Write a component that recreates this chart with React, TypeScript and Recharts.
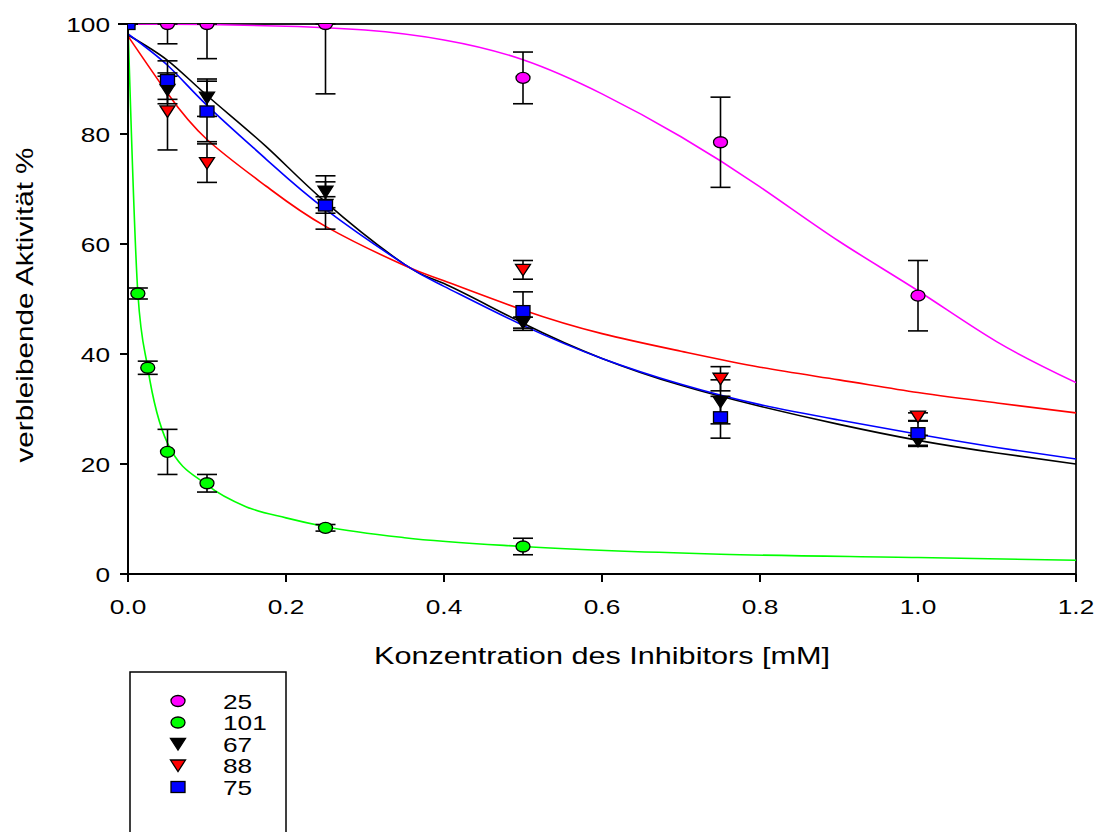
import React from 'react';
import { ComposedChart, Line, Scatter, XAxis, YAxis, ErrorBar, ReferenceLine } from 'recharts';

const FONT = '"Liberation Sans", Arial, Helvetica, sans-serif';
const STRETCH = 1.25; // the original picture is widened a bit

const xTicks = [0, 0.2, 0.4, 0.6, 0.8, 1.0, 1.2];
const yTicks = [0, 20, 40, 60, 80, 100];

const xTitle = 'Konzentration des Inhibitors [mM]';
const yTitle = 'verbleibende Aktivität %';

const seriesNames = ['25', '101', '67', '88', '75'];
const seriesColors = ['#ff00ff', '#00ff00', '#000000', '#ff0000', '#0000ff'];
const seriesShapes = ['circle', 'circle', 'triangle', 'triangle', 'square'];
const curveTypes: any[] = ['natural', 'monotone', 'natural', 'natural', 'natural'];

// measured points
const conc = [0, 0.05, 0.1, 0.25, 0.5, 0.75, 1.0];
const conc101 = [0, 0.0125, 0.025, 0.05, 0.1, 0.25, 0.5];

const act25 = [100, 100, 100, 100, 90.2, 78.5, 50.6];
const err25 = [[0, 0], [3.6, 0], [6.3, 0], [12.7, 0], [4.7, 4.7], [8.2, 8.2], [6.4, 6.4]];

const act101 = [100, 51, 37.5, 22.2, 16.5, 8.4, 5.0];
const err101 = [[0, 0], [1, 1], [1.2, 1.2], [4.1, 4.1], [1.6, 1.6], [0.6, 0.6], [1.5, 1.5]];

const act67 = [100, 88, 86.6, 69.5, 45.7, 31.3, 24.2];
const err67 = [[0, 0], [2.5, 2.5], [3.4, 3.4], [2.9, 2.9], [1, 1], [4, 4], [1, 1]];

const act88 = [100, 84.1, 74.7, 67.1, 55.3, 35.5, 28.6];
const err88 = [[0, 0], [7, 7], [3.5, 3.5], [1.5, 1.5], [1.7, 1.7], [2.2, 2.2], [0.7, 0.7]];

const act75 = [100, 89.8, 84.1, 67, 47.8, 28.5, 25.6];
const err75 = [[0, 0], [3.5, 3.5], [5.5, 5.5], [4.3, 4.3], [3.5, 3.5], [3.8, 3.8], [2.2, 2.2]];

// fitted curves
const fitX25 = [0, 0.1, 0.2, 0.3, 0.4, 0.5, 0.6, 0.7, 0.8, 0.9, 1.0, 1.1, 1.2];
const fit25 = [100, 99.9, 99.6, 98.9, 97.1, 93.5, 87.3, 79.5, 70.4, 60.5, 51.5, 42.2, 34.8];

const fitX101 = [0, 0.0125, 0.025, 0.05, 0.1, 0.15, 0.2, 0.25, 0.35, 0.5, 0.75, 1.0, 1.2];
const fit101 = [100, 51, 37.5, 23.8, 16.2, 12.2, 10.2, 8.6, 6.6, 5.0, 3.6, 3.0, 2.5];

const fitX = [0, 0.05, 0.1, 0.175, 0.25, 0.35, 0.4, 0.5, 0.6, 0.7, 0.8, 0.9, 1.0, 1.1, 1.2];
const fit67 = [98, 93.4, 87, 77.7, 67.6, 56.3, 52.8, 45.6, 39.2, 34.3, 30.5, 27.2, 24.3, 22, 20];
const fit88 = [97.8, 87.4, 79, 70.5, 63.2, 56.1, 53.3, 48, 43.7, 40.5, 37.6, 35.3, 33, 31.1, 29.3];
const fit75 = [98.2, 92.5, 85.2, 75.4, 66.3, 56.3, 52.3, 45.2, 39.2, 34.5, 30.8, 28, 25.4, 23, 20.9];

const legendRows = [701, 722.5, 744, 765.5, 787];

const curve = (xs: number[], ys: number[]) => xs.map((x, i) => ({ x, y: ys[i] }));
const points = (xs: number[], ys: number[], es: number[][]) =>
  xs.map((x, i) => ({ x, y: ys[i], err: es[i] }));

const curves = [
  curve(fitX25, fit25),
  curve(fitX101, fit101),
  curve(fitX, fit67),
  curve(fitX, fit88),
  curve(fitX, fit75),
];

const measured = [
  points(conc, act25, err25),
  points(conc101, act101, err101),
  points(conc, act67, err67),
  points(conc, act88, err88),
  points(conc, act75, err75),
];

const Marker = ({ cx, cy, fill, kind }: any) => {
  if (cx == null || cy == null) return null;
  if (kind === 'circle') {
    return <ellipse cx={cx} cy={cy} rx={7} ry={5.5} fill={fill} stroke="#000" strokeWidth={1.3} />;
  }
  if (kind === 'triangle') {
    return (
      <polygon
        points={`${cx - 7.5},${cy - 5.5} ${cx + 7.5},${cy - 5.5} ${cx},${cy + 6}`}
        fill={fill}
        stroke="#000"
        strokeWidth={1.3}
      />
    );
  }
  return <rect x={cx - 7} y={cy - 5.5} width={14} height={11} fill={fill} stroke="#000" strokeWidth={1.3} />;
};

const XTick = ({ x, y, payload }: any) => (
  <g transform={`translate(${x},${y})`}>
    <text transform={`scale(${STRETCH},1)`} textAnchor="middle" y={32} fontSize={21} fontFamily={FONT} fill="#000">
      {Number(payload.value).toFixed(1)}
    </text>
  </g>
);

const YTick = ({ x, y, payload }: any) => (
  <g transform={`translate(${x - 10},${y})`}>
    <text transform={`scale(${STRETCH},1)`} textAnchor="end" y={7.5} fontSize={21} fontFamily={FONT} fill="#000">
      {payload.value}
    </text>
  </g>
);

export default function App() {
  return (
    <div style={{ position: 'fixed', left: 0, top: 0, width: 1098, height: 832, overflow: 'hidden', background: '#fff' }}>
      <ComposedChart width={1098} height={832} margin={{ top: 24, right: 22, left: 0, bottom: 0 }}>
        <XAxis
          type="number"
          dataKey="x"
          domain={[0, 1.2]}
          ticks={xTicks}
          allowDataOverflow
          height={258}
          tickSize={8}
          tickMargin={0}
          tick={<XTick />}
          axisLine={{ stroke: '#000', strokeWidth: 2 }}
          tickLine={{ stroke: '#000', strokeWidth: 2 }}
        />
        <YAxis
          type="number"
          dataKey="y"
          domain={[0, 100]}
          ticks={yTicks}
          allowDataOverflow
          width={128}
          tickSize={8}
          tickMargin={0}
          tick={<YTick />}
          axisLine={{ stroke: '#000', strokeWidth: 2 }}
          tickLine={{ stroke: '#000', strokeWidth: 2 }}
        />
        <ReferenceLine y={100} stroke="#222" strokeWidth={2} />
        <ReferenceLine x={1.2} stroke="#222" strokeWidth={2} />
        {curves.map((d, i) => (
          <Line
            key={'fit' + i}
            data={d}
            dataKey="y"
            type={curveTypes[i]}
            stroke={seriesColors[i]}
            strokeWidth={1.6}
            dot={false}
            activeDot={false}
            isAnimationActive={false}
          />
        ))}
        {measured.map((d, i) => (
          <Scatter
            key={'pts' + i}
            name={seriesNames[i]}
            data={d}
            fill={seriesColors[i]}
            isAnimationActive={false}
            shape={(p: any) => <Marker {...p} fill={seriesColors[i]} kind={seriesShapes[i]} />}
          >
            <ErrorBar dataKey="err" direction="y" width={10} stroke="#000" strokeWidth={1.6} isAnimationActive={false} />
          </Scatter>
        ))}
      </ComposedChart>
      <svg width={1098} height={832} style={{ position: 'absolute', left: 0, top: 0, pointerEvents: 'none' }}>
        <g transform="translate(602,664)">
          <text transform={`scale(${STRETCH},1)`} textAnchor="middle" fontSize={24.5} fontFamily={FONT} fill="#000">
            {xTitle}
          </text>
        </g>
        <g transform="translate(33,305) rotate(-90)">
          <text
            textAnchor="middle"
            fontSize={24}
            fontFamily={FONT}
            fill="#000"
            textLength={315}
            lengthAdjust="spacingAndGlyphs"
          >
            {yTitle}
          </text>
        </g>
        <rect x={130} y={672} width={156} height={200} fill="none" stroke="#000" strokeWidth={1.5} />
        {seriesNames.map((name, i) => (
          <g key={name}>
            <Marker cx={178} cy={legendRows[i]} fill={seriesColors[i]} kind={seriesShapes[i]} />
            <g transform={`translate(223,${legendRows[i] + 7.5})`}>
              <text transform={`scale(${STRETCH},1)`} fontSize={21} fontFamily={FONT} fill="#000">
                {name}
              </text>
            </g>
          </g>
        ))}
      </svg>
    </div>
  );
}
